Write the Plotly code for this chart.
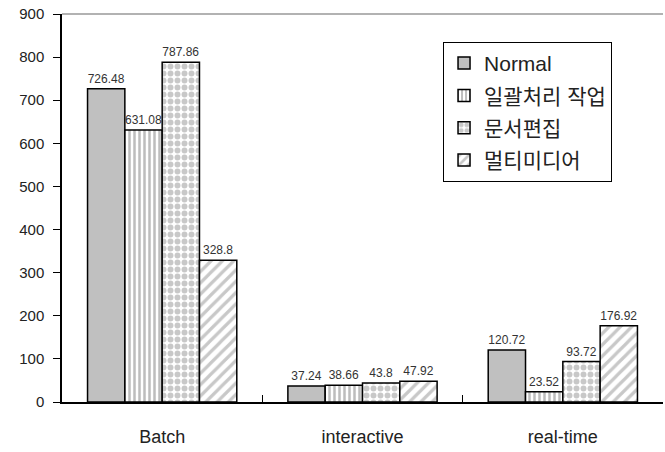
import plotly.graph_objects as go

categories = ["Batch", "interactive", "real-time"]
series_names = ["Normal", "일괄처리 작업", "문서편집", "멀티미디어"]
normal = [726.48, 37.24, 120.72]
batch_job = [631.08, 38.66, 23.52]
doc_edit = [787.86, 43.8, 93.72]
multimedia = [328.8, 47.92, 176.92]
y_ticks = [0, 100, 200, 300, 400, 500, 600, 700, 800, 900]

series_values = [normal, batch_job, doc_edit, multimedia]
patterns = [
    dict(shape=""),
    dict(shape="|", fgcolor="#BDBDBD", bgcolor="white", size=5, solidity=0.5, fillmode="replace"),
    dict(shape=".", fgcolor="#C8C8C8", bgcolor="white", size=7, solidity=0.55, fillmode="replace"),
    dict(shape="/", fgcolor="#C8C8C8", bgcolor="white", size=8, solidity=0.4, fillmode="replace"),
]
fills = ["#C0C0C0", "white", "white", "white"]

fig = go.Figure()
for i, (name, vals, pat, fc) in enumerate(zip(series_names, series_values, patterns, fills)):
    fig.add_trace(go.Bar(
        name=name, x=categories, y=vals, legendgroup=f"g{i}",
        marker=dict(color=fc, pattern=pat, line=dict(color="black", width=1.5)),
        text=[f"{v:g}" for v in vals], textposition="outside",
        textfont=dict(size=12, color="#333333", family="Liberation Sans, Arial, sans-serif"),
        constraintext="none", cliponaxis=False,
    ))

fig.update_layout(
    width=665, height=452,
    margin=dict(l=62, r=2, t=14, b=50),
    paper_bgcolor="white", plot_bgcolor="white",
    barmode="group", bargap=0.255, bargroupgap=0,
    font=dict(family="Liberation Sans, Noto Sans CJK KR, sans-serif", color="#222222"),
    showlegend=True,
    legend=dict(
        x=0.634, y=0.928, xanchor="left", yanchor="top",
        bordercolor="black", borderwidth=1, bgcolor="white",
        font=dict(size=21, family="Liberation Sans, Noto Sans CJK KR, sans-serif", color="#222222"),
        tracegroupgap=2, itemwidth=30,
    ),
    xaxis=dict(
        showline=True, linecolor="black", linewidth=1.5,
        ticks="inside", tickson="boundaries", ticklen=7, tickcolor="black",
        tickfont=dict(size=18, color="#222222"),
        ticklabelstandoff=18,
        showgrid=False, automargin=False,
    ),
    yaxis=dict(
        range=[0, 900], tickvals=y_ticks,
        showline=True, linecolor="black", linewidth=1.5,
        ticks="outside", ticklen=7, tickcolor="black",
        tickfont=dict(size=15, color="#222222"),
        ticklabelstandoff=6,
        showgrid=False, zeroline=False, automargin=False,
    ),
    shapes=[dict(type="line", xref="paper", yref="paper", x0=0, x1=1, y0=1, y1=1,
                 line=dict(color="#999999", width=1.5))],
)

fig.write_html(
    "out.html",
    config={"displayModeBar": False},
    post_script="document.body.style.margin='0';document.body.style.overflow='hidden';",
)
